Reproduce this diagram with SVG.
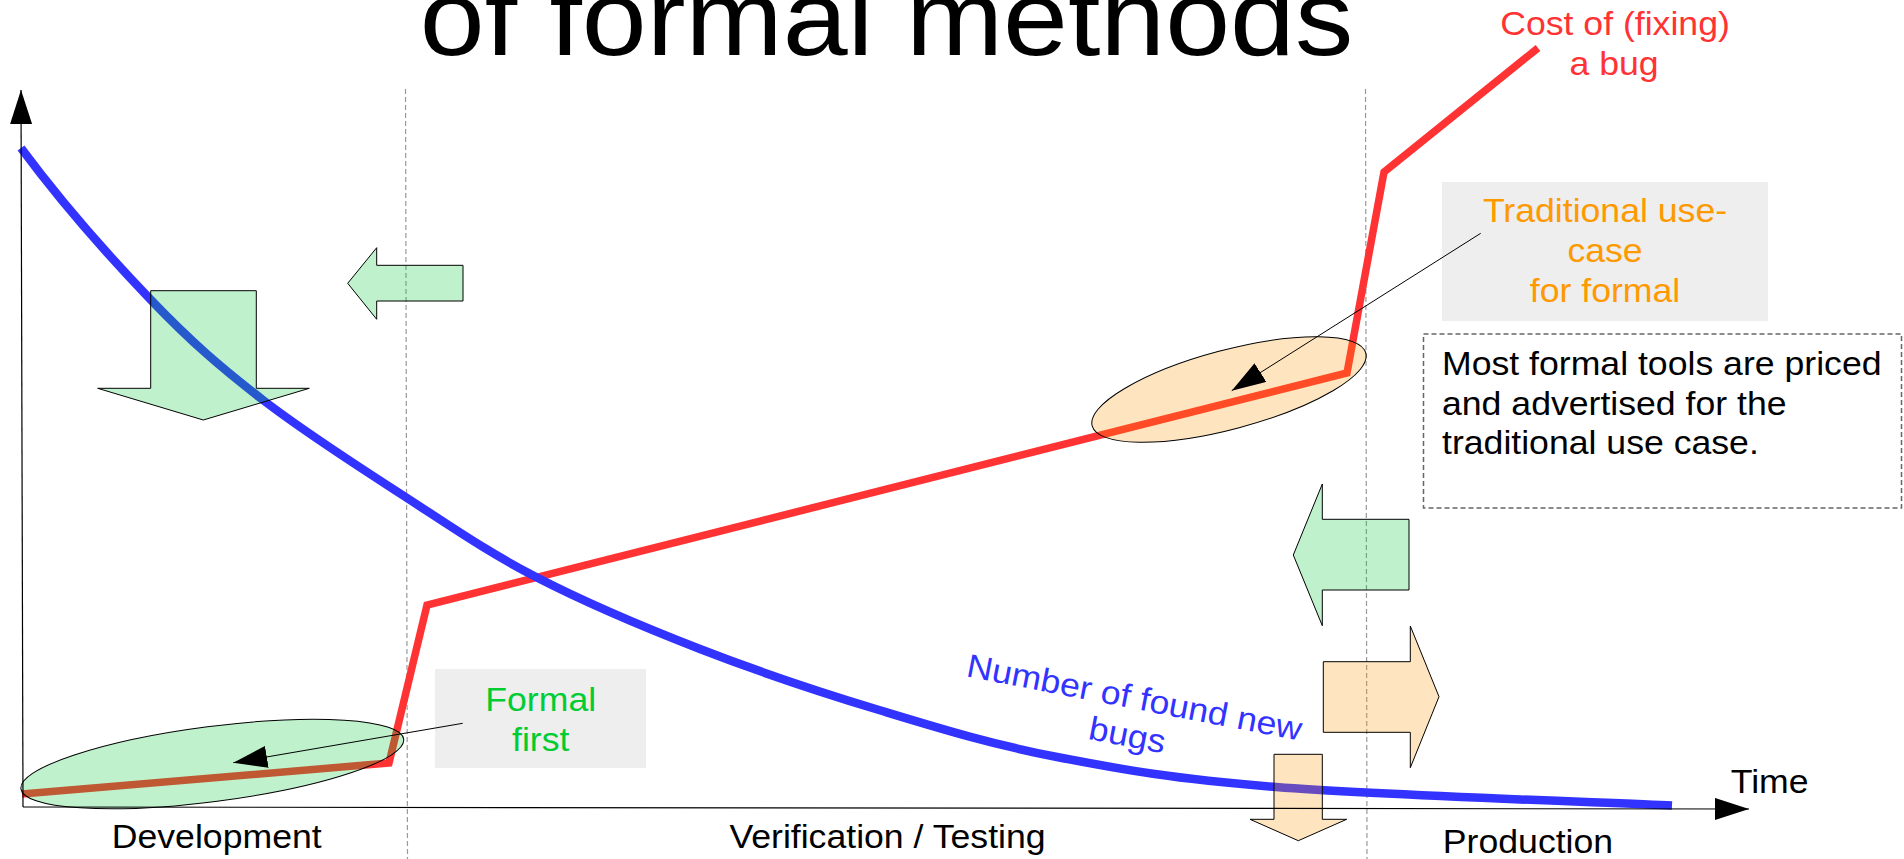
<svg xmlns="http://www.w3.org/2000/svg" width="1904" height="859" viewBox="0 0 1904 859">
  <style>
    text { font-family: "Liberation Sans", Arial, sans-serif; font-size: 33px; }
    .mid { text-anchor: middle; }
    .title { font-size: 108px; fill: #000; }
    .phase { fill: #000; }
    .cost { fill: #ff3333; }
    .trad { fill: #ff9900; }
    .first { fill: #00cc33; }
    .bugs { fill: #3333ff; }
    .note { fill: #000; }
    .divider { stroke: #999; stroke-width: 1.2; stroke-dasharray: 5 3; fill: none; }
    .label-bg { fill: #eeeeee; stroke: none; }
    .note-box { fill: none; stroke: #666; stroke-width: 1.5; stroke-dasharray: 5 3; }
    .axis { stroke: #000; stroke-width: 1.2; fill: none; marker-end: url(#head); }
    .pointer { stroke: #000; stroke-width: 1; fill: none; marker-end: url(#head); }
    .green-shape { fill: #00cc33; fill-opacity: 0.25; stroke: #000; stroke-width: 1; }
    .orange-shape { fill: #ff9900; fill-opacity: 0.25; stroke: #000; stroke-width: 1; }
  </style>
  <defs>
    <marker id="head" viewBox="0 0 34 22" refX="34" refY="11" markerWidth="34" markerHeight="22" markerUnits="userSpaceOnUse" orient="auto">
      <path d="M0,0 L34,11 L0,22 z" fill="#000"/>
    </marker>
  </defs>

  <rect width="1904" height="859" fill="#fff"/>

  <!-- title, partly above the top edge -->
  <text class="title mid" transform="translate(886.5 55) scale(1.08 1)">of formal methods</text>

  <!-- phase dividers -->
  <g id="dividers">
    <line class="divider" x1="405.5" y1="89" x2="407.5" y2="859"/>
    <line class="divider" x1="1365.5" y1="89" x2="1367" y2="859"/>
  </g>

  <!-- label backgrounds -->
  <rect id="traditional-bg" class="label-bg" x="1442" y="182" width="326" height="139"/>
  <rect id="formal-first-bg" class="label-bg" x="435" y="669" width="211" height="99"/>

  <!-- cost of fixing a bug -->
  <g id="cost-curve">
    <polyline points="22,794 389,763 427,605 1347,373 1384,172 1538,48" fill="none" stroke="#ff3333" stroke-width="7.5" stroke-linejoin="miter"/>
  </g>

  <!-- number of found new bugs -->
  <g id="bugs-curve">
    <path d="M21,148 C64,206 110.7,258 151,300 C191.3,342 220.3,367 263,400 C305.7,433 361.5,468.5 407,498 C452.5,527.5 487.2,551.8 536,577 C584.8,602.2 642.8,626.8 700,649 C757.2,671.2 819.5,692 879,710 C938.5,728 990.8,744.2 1057,757 C1123.2,769.8 1173.7,778.9 1276,787 C1378.3,795.1 1605.2,802.4 1672,805.5" fill="none" stroke="#3333ff" stroke-width="8.5"/>
  </g>

  <!-- highlighted regions -->
  <g id="formal-first-region">
    <ellipse class="green-shape" cx="212.3" cy="764" rx="193" ry="37.5" transform="rotate(-7.4 212.3 764)"/>
  </g>
  <g id="traditional-region">
    <ellipse class="orange-shape" cx="1229" cy="389.5" rx="141.6" ry="39.5" transform="rotate(-14.9 1229 389.5)"/>
  </g>

  <!-- block arrows -->
  <g id="arrow-down-green">
    <polygon class="green-shape" points="150.7,290.7 256.3,290.7 256.3,388.3 309.3,388.3 203.3,420 97.7,388.3 150.7,388.3"/>
  </g>
  <g id="arrow-left-green-top">
    <polygon class="green-shape" points="347.7,283.3 376.7,247.7 376.7,265.3 463,265.3 463,301 376.7,301 376.7,319.3"/>
  </g>
  <g id="arrow-left-green-right">
    <polygon class="green-shape" points="1293.3,555 1322.3,484 1322.3,519.3 1409,519.3 1409,590 1322.3,590 1322.3,625.7"/>
  </g>
  <g id="arrow-right-orange">
    <polygon class="orange-shape" points="1323.3,661.7 1410.3,661.7 1410.3,626 1439,696.7 1410.3,767.7 1410.3,732.3 1323.3,732.3"/>
  </g>
  <g id="arrow-down-orange">
    <polygon class="orange-shape" points="1274,754.3 1322.3,754.3 1322.3,819.3 1346.7,819.3 1298.3,840.7 1250,819.3 1274,819.3"/>
  </g>

  <!-- axes and pointers -->
  <g id="connectors">
    <line class="axis" x1="23" y1="807" x2="21" y2="90"/>
    <line class="axis" x1="23" y1="807" x2="1749" y2="809"/>
    <line class="pointer" x1="462.7" y1="723.3" x2="233.3" y2="762.7"/>
    <line class="pointer" x1="1480.7" y1="233.3" x2="1231.7" y2="390.7"/>
  </g>

  <!-- labels -->
  <g id="cost-label">
    <text class="cost mid" transform="translate(1615 35) scale(1.08 1)">Cost of (fixing)</text>
    <text class="cost mid" transform="translate(1614 75) scale(1.08 1)">a bug</text>
  </g>
  <g id="traditional-label">
    <text class="trad mid" transform="translate(1605 221.7) scale(1.08 1)">Traditional use-</text>
    <text class="trad mid" transform="translate(1605 261.7) scale(1.08 1)">case</text>
    <text class="trad mid" transform="translate(1605 301.7) scale(1.08 1)">for formal</text>
  </g>
  <g id="note">
    <rect class="note-box" x="1423.5" y="334" width="478" height="174"/>
    <text class="note" transform="translate(1442 375) scale(1.08 1)">Most formal tools are priced</text>
    <text class="note" transform="translate(1442 414.5) scale(1.08 1)">and advertised for the</text>
    <text class="note" transform="translate(1442 454) scale(1.08 1)">traditional use case.</text>
  </g>
  <g id="formal-first-label">
    <text class="first mid" transform="translate(540.7 711) scale(1.08 1)">Formal</text>
    <text class="first mid" transform="translate(540.7 750.7) scale(1.08 1)">first</text>
  </g>
  <g id="bugs-label">
    <text class="bugs mid" transform="translate(1132.4 708.4) rotate(10.9) scale(1.08 1)">Number of found new</text>
    <text class="bugs mid" transform="translate(1125.2 746) rotate(10.9) scale(1.08 1)">bugs</text>
  </g>
  <g id="phase-labels">
    <text class="phase mid" transform="translate(216.7 848.3) scale(1.08 1)">Development</text>
    <text class="phase mid" transform="translate(887.5 848.3) scale(1.08 1)">Verification / Testing</text>
    <text class="phase mid" transform="translate(1528 853) scale(1.08 1)">Production</text>
    <text class="phase" transform="translate(1730.7 793.3) scale(1.08 1)">Time</text>
  </g>
</svg>
